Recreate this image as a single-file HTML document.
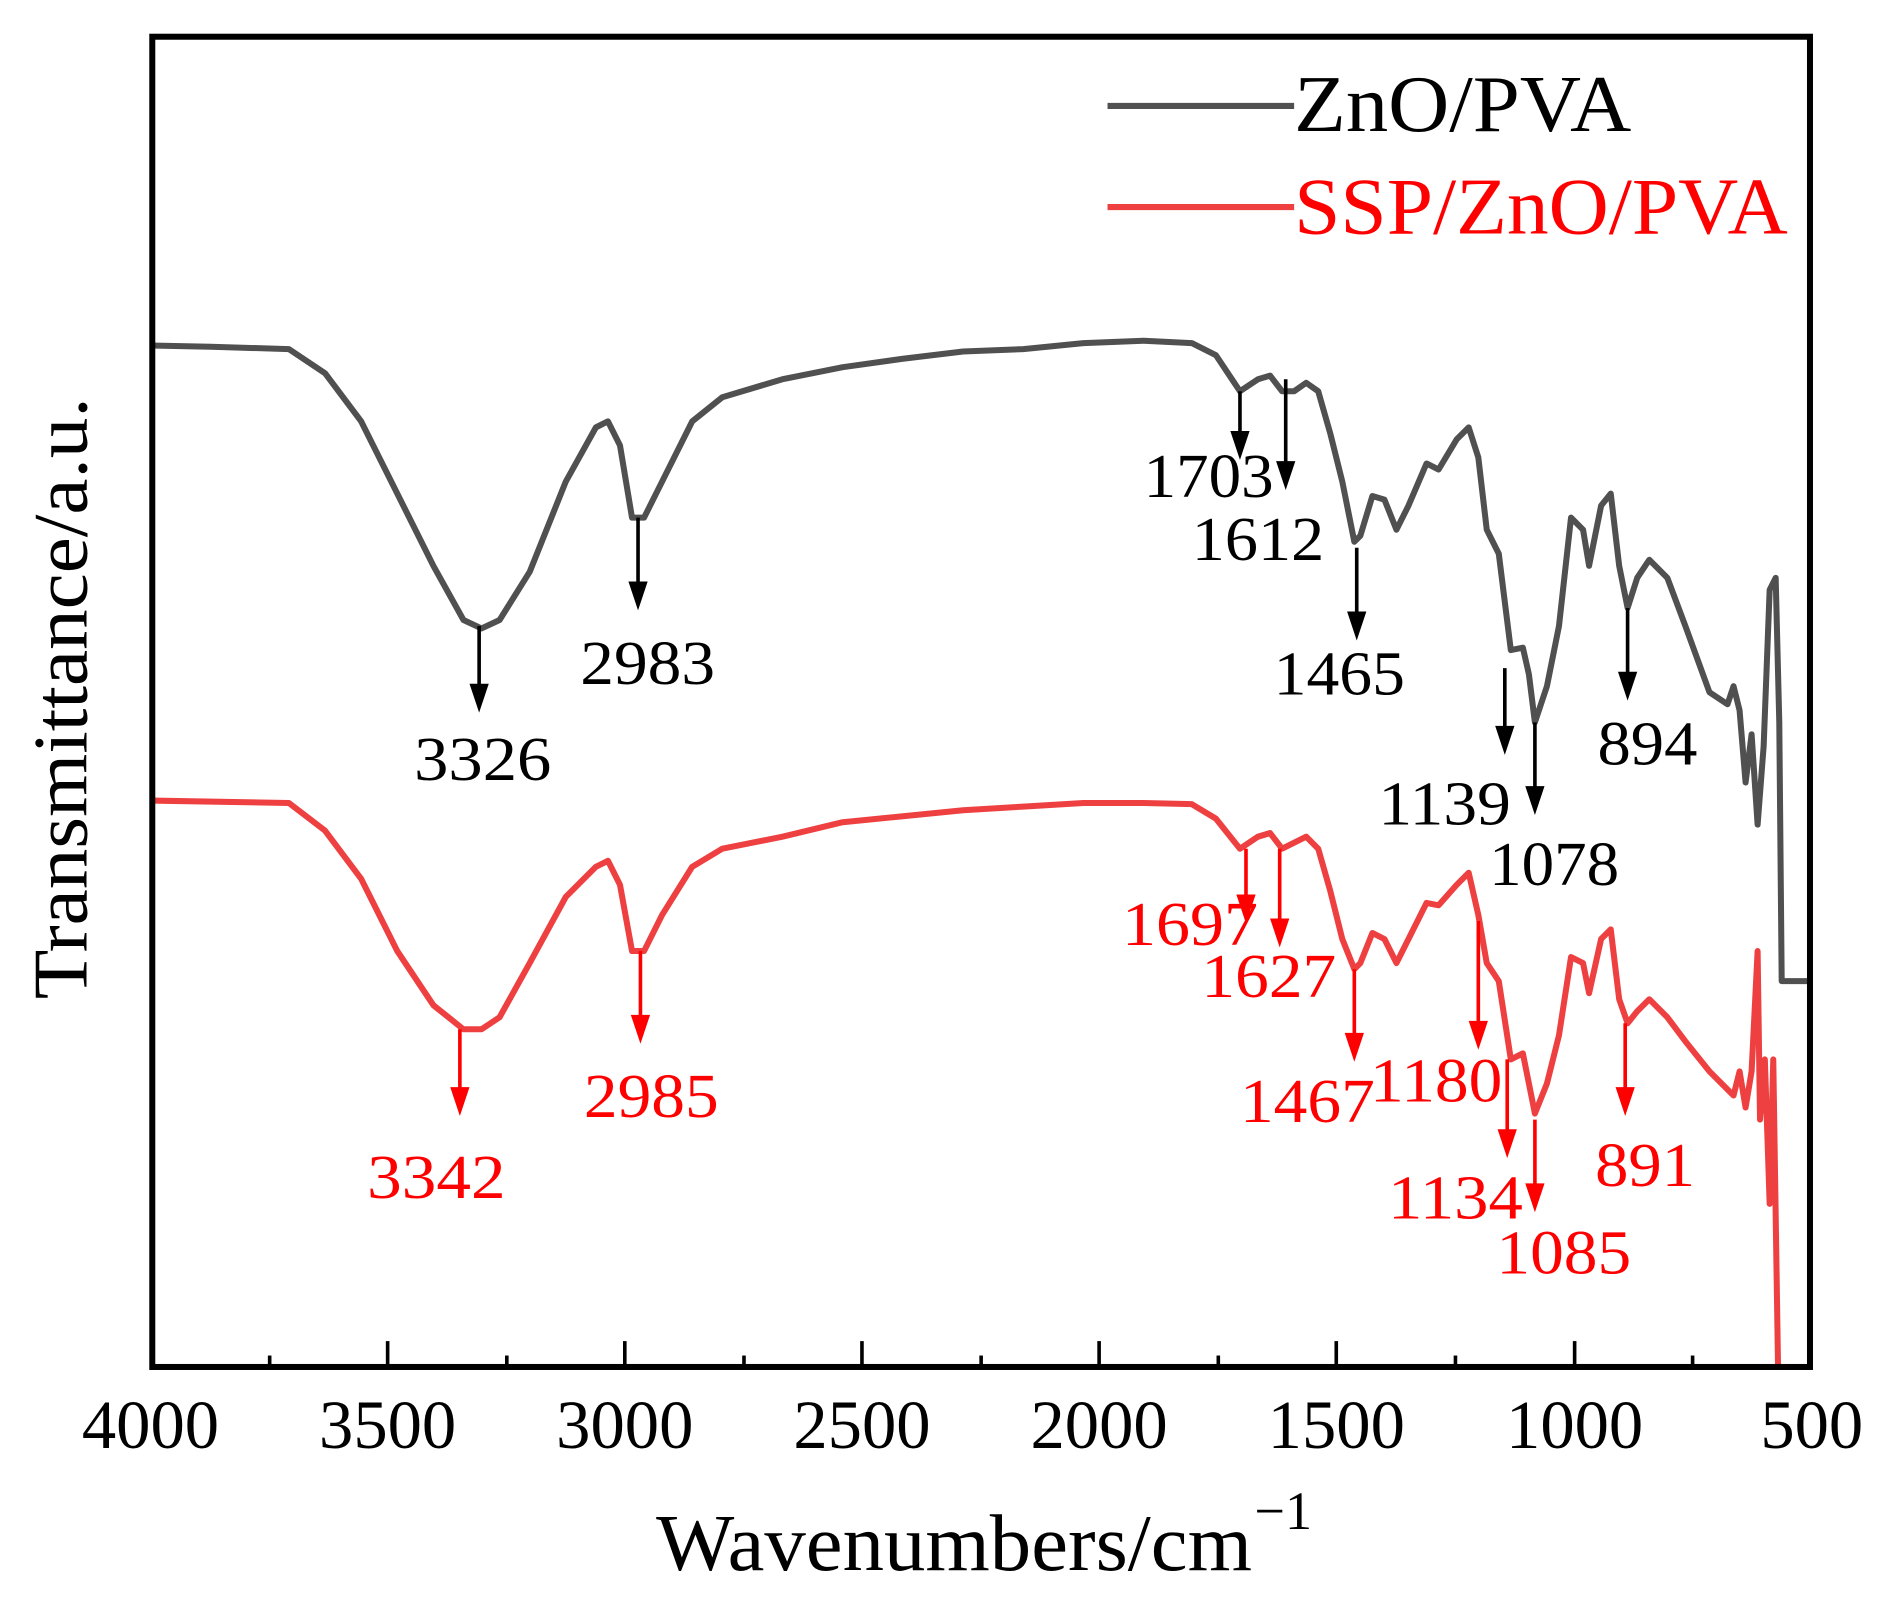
<!DOCTYPE html>
<html><head><meta charset="utf-8"><style>
html,body{margin:0;padding:0;background:#fff;}
svg{display:block;}
text{font-family:"Liberation Serif",serif;}
</style></head><body>
<svg width="1878" height="1598" viewBox="0 0 1560 1327.4" xmlns="http://www.w3.org/2000/svg">
<rect x="0" y="0" width="1560" height="1328" fill="#fff"/>
<!-- curves -->
<polyline fill="none" stroke="#505050" stroke-width="5" stroke-linejoin="round" points="125,287 175,288 240,290 270,310 300,350 330,410 360,470 385,515 400,522 415,515 440,475 470,400 495,355 505,350 515,370 525,430 535,430 550,400 575,350 600,330 650,315 700,305 750,298 800,292 850,290 900,285 950,283 990,285 1010,295 1030,325 1045,315 1055,312 1065,325 1075,325 1085,318 1095,325 1105,360 1115,400 1125,450 1130,445 1140,412 1150,415 1160,440 1170,420 1185,385 1195,390 1210,365 1220,355 1228,380 1235,440 1245,460 1255,540 1265,538 1270,560 1275,600 1285,570 1295,520 1305,430 1315,440 1320,470 1330,420 1338,410 1345,470 1352,505 1360,480 1370,465 1385,480 1400,520 1420,575 1435,585 1440,570 1445,590 1450,650 1455,610 1460,685 1465,620 1470,490 1475,480 1478,600 1480,815 1505,815"/>
<polyline fill="none" stroke="#ee4040" stroke-width="5" stroke-linejoin="round" points="125,665 240,667 270,690 300,730 330,790 360,835 385,855 400,855 415,845 440,800 470,745 495,720 505,715 515,735 525,790 535,790 550,760 575,720 600,705 650,695 700,683 750,678 800,673 850,670 900,667 950,667 990,668 1010,680 1030,705 1045,695 1055,692 1065,705 1075,700 1085,695 1095,705 1105,740 1115,780 1125,805 1130,800 1140,775 1150,780 1160,800 1170,780 1185,750 1195,752 1210,735 1220,725 1228,760 1235,800 1245,815 1255,880 1265,875 1270,900 1275,925 1285,900 1295,860 1305,795 1315,800 1320,825 1330,780 1338,772 1345,830 1352,850 1360,840 1370,830 1385,845 1400,865 1420,890 1440,910 1445,890 1450,920 1455,890 1460,790 1462,930 1466,880 1470,1000 1473,880 1477,1138"/>
<!-- axes -->
<rect x="126.5" y="30.5" width="1377" height="1105" fill="none" stroke="#000" stroke-width="5"/>
<g stroke="#000" stroke-width="3">
<line x1="322" y1="1136" x2="322" y2="1114"/><line x1="519" y1="1136" x2="519" y2="1114"/><line x1="716" y1="1136" x2="716" y2="1114"/><line x1="913" y1="1136" x2="913" y2="1114"/><line x1="1110" y1="1136" x2="1110" y2="1114"/><line x1="1308" y1="1136" x2="1308" y2="1114"/>
<line x1="224" y1="1136" x2="224" y2="1126"/><line x1="421" y1="1136" x2="421" y2="1126"/><line x1="618" y1="1136" x2="618" y2="1126"/><line x1="815" y1="1136" x2="815" y2="1126"/><line x1="1012" y1="1136" x2="1012" y2="1126"/><line x1="1209" y1="1136" x2="1209" y2="1126"/><line x1="1406" y1="1136" x2="1406" y2="1126"/>
</g>
<g font-size="57" text-anchor="middle">
<text x="125" y="1203">4000</text><text x="322" y="1203">3500</text><text x="519" y="1203">3000</text><text x="716" y="1203">2500</text><text x="913" y="1203">2000</text><text x="1110" y="1203">1500</text><text x="1308" y="1203">1000</text><text x="1505" y="1203">500</text>
</g>
<text x="545" y="1304" font-size="67" textLength="495" lengthAdjust="spacingAndGlyphs">Wavenumbers/cm</text>
<text x="1042" y="1270" font-size="45">−1</text>
<text transform="translate(72,580) rotate(-90)" font-size="64" text-anchor="middle" textLength="500" lengthAdjust="spacingAndGlyphs">Transmittance/a.u.</text>
<!-- legend -->
<line x1="920" y1="88" x2="1075" y2="88" stroke="#505050" stroke-width="5"/>
<line x1="920" y1="172" x2="1075" y2="172" stroke="#ee4040" stroke-width="5"/>
<text x="1075" y="109" font-size="67" textLength="280" lengthAdjust="spacingAndGlyphs">ZnO/PVA</text>
<text x="1075" y="194" font-size="67" fill="#f00" textLength="410" lengthAdjust="spacingAndGlyphs">SSP/ZnO/PVA</text>
<!-- black annotations -->
<g stroke="#000" stroke-width="3">
<line x1="398" y1="520" x2="398" y2="575"/><line x1="530" y1="430" x2="530" y2="490"/><line x1="1030" y1="325" x2="1030" y2="365"/><line x1="1068" y1="315" x2="1068" y2="390"/><line x1="1127" y1="455" x2="1127" y2="515"/><line x1="1250" y1="555" x2="1250" y2="610"/><line x1="1275" y1="600" x2="1275" y2="660"/><line x1="1352" y1="505" x2="1352" y2="565"/>
</g>
<g fill="#000">
<path d="M390,568 h16 l-8,24 z"/><path d="M522,483 h16 l-8,24 z"/><path d="M1022,358 h16 l-8,24 z"/><path d="M1060,383 h16 l-8,24 z"/><path d="M1119,508 h16 l-8,24 z"/><path d="M1242,603 h16 l-8,24 z"/><path d="M1267,653 h16 l-8,24 z"/><path d="M1344,558 h16 l-8,24 z"/>
</g>
<g font-size="52" fill="#000">
<text x="344" y="648" textLength="114" lengthAdjust="spacingAndGlyphs">3326</text>
<text x="482" y="568" textLength="112" lengthAdjust="spacingAndGlyphs">2983</text>
<text x="950" y="413" textLength="108" lengthAdjust="spacingAndGlyphs">1703</text>
<text x="990" y="465" textLength="110" lengthAdjust="spacingAndGlyphs">1612</text>
<text x="1058" y="577" textLength="109" lengthAdjust="spacingAndGlyphs">1465</text>
<text x="1145" y="685" textLength="110" lengthAdjust="spacingAndGlyphs">1139</text>
<text x="1237" y="735" textLength="108" lengthAdjust="spacingAndGlyphs">1078</text>
<text x="1327" y="635" textLength="83" lengthAdjust="spacingAndGlyphs">894</text>
</g>
<!-- red annotations -->
<g stroke="#f00" stroke-width="3">
<line x1="382" y1="855" x2="382" y2="910"/><line x1="532" y1="790" x2="532" y2="850"/><line x1="1035" y1="705" x2="1035" y2="750"/><line x1="1063" y1="705" x2="1063" y2="770"/><line x1="1125" y1="805" x2="1125" y2="865"/><line x1="1228" y1="765" x2="1228" y2="855"/><line x1="1252" y1="880" x2="1252" y2="945"/><line x1="1275" y1="930" x2="1275" y2="990"/><line x1="1350" y1="850" x2="1350" y2="910"/>
</g>
<g fill="#f00">
<path d="M374,903 h16 l-8,24 z"/><path d="M524,843 h16 l-8,24 z"/><path d="M1027,743 h16 l-8,24 z"/><path d="M1055,763 h16 l-8,24 z"/><path d="M1117,858 h16 l-8,24 z"/><path d="M1220,848 h16 l-8,24 z"/><path d="M1244,938 h16 l-8,24 z"/><path d="M1267,983 h16 l-8,24 z"/><path d="M1342,903 h16 l-8,24 z"/>
</g>
<g font-size="52" fill="#f00">
<text x="305" y="995" textLength="115" lengthAdjust="spacingAndGlyphs">3342</text>
<text x="485" y="928" textLength="112" lengthAdjust="spacingAndGlyphs">2985</text>
<text x="932" y="785" textLength="113" lengthAdjust="spacingAndGlyphs">1697</text>
<text x="998" y="828" textLength="112" lengthAdjust="spacingAndGlyphs">1627</text>
<text x="1030" y="932" textLength="112" lengthAdjust="spacingAndGlyphs">1467</text>
<text x="1138" y="915" textLength="110" lengthAdjust="spacingAndGlyphs">1180</text>
<text x="1153" y="1012" textLength="112" lengthAdjust="spacingAndGlyphs">1134</text>
<text x="1243" y="1058" textLength="112" lengthAdjust="spacingAndGlyphs">1085</text>
<text x="1325" y="985" textLength="83" lengthAdjust="spacingAndGlyphs">891</text>
</g>
</svg>
</body></html>
